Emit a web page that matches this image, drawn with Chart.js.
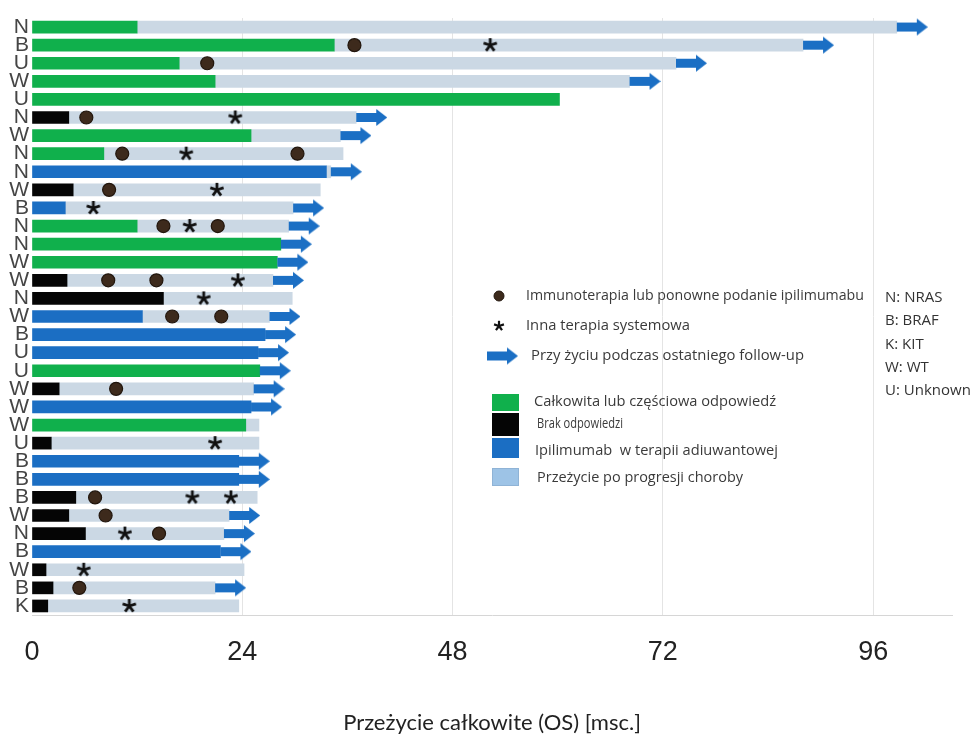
<!DOCTYPE html>
<html>
<head>
<meta charset="utf-8">
<script src="https://cdn.jsdelivr.net/npm/chart.js@4/dist/chart.umd.min.js"></script>
<style>
  html, body { margin: 0; padding: 0; background: #fff; }
  #wrap { width: 974px; height: 736px; }
</style>
</head>
<body>
<div id="wrap"><canvas id="chart" width="974" height="736"></canvas></div>
<script>
// Mutation status per patient, top to bottom
const mutation = ['N','B','U','W','U','N','W','N','N','W','B','N','N','W','W','N','W','B','U','U','W','W','W','U','B','B','B','W','N','B','W','B','K'];
// Ipilimumab setting: CR = complete/partial response, NR = no response, ADJ = adjuvant
const response = ['CR','CR','CR','CR','CR','NR','CR','CR','ADJ','NR','ADJ','CR','CR','CR','NR','NR','ADJ','ADJ','ADJ','CR','NR','ADJ','CR','NR','ADJ','ADJ','NR','NR','NR','ADJ','NR','NR','NR'];
// Months until progression (end of the coloured segment)
const responseEnd = [12.0,34.5,16.8,20.9,60.2,4.2,25.0,8.2,33.6,4.7,3.8,12.0,28.4,28.0,4.0,15.0,12.6,26.6,25.8,26.0,3.1,25.0,24.4,2.2,23.6,23.6,5.0,4.2,6.1,21.5,1.6,2.4,1.8];
// Overall survival, months
const overallSurvival = [98.7,88.0,73.5,68.2,60.2,37.0,35.2,35.5,34.1,32.9,29.8,29.3,28.4,28.0,27.5,29.7,27.1,26.6,25.8,26.0,25.3,25.0,25.9,25.9,23.6,23.6,25.7,22.5,21.9,21.5,24.2,20.9,23.6];
// Alive at last follow-up (1 = yes)
const alive = [1,1,1,1,0,1,1,0,1,0,1,1,1,1,1,0,1,1,1,1,1,1,0,0,1,1,0,1,1,1,0,1,0];
// Immunotherapy or ipilimumab rechallenge: [patient no., month]
const immunoEvents = [[2,36.8],[3,20.0],[6,6.2],[8,10.3],[8,30.3],[10,8.8],[12,15.0],[12,21.2],[15,8.7],[15,14.2],[17,16.0],[17,21.6],[21,9.6],[27,7.2],[28,8.4],[29,14.5],[32,5.4]];
// Other systemic therapy: [patient no., month]
const otherTherapy = [[2,52.3],[6,23.2],[8,17.6],[10,21.1],[11,7.0],[12,18.0],[15,23.5],[16,19.6],[24,20.9],[27,18.3],[27,22.7],[29,10.6],[31,5.9],[33,11.1]];
// Axis ticks (months)
const xTicks = [0, 24, 48, 72, 96];

const legendSymbolText = ['Immunoterapia lub ponowne podanie ipilimumabu', 'Inna terapia systemowa', 'Przy życiu podczas ostatniego follow-up'];
const legendColourText = ['Całkowita lub częściowa odpowiedź', 'Brak odpowiedzi', 'Ipilimumab  w terapii adiuwantowej', 'Przeżycie po progresji choroby'];
const mutationKey = ['N: NRAS', 'B: BRAF', 'K: KIT', 'W: WT', 'U: Unknown'];
const axisTitle = 'Przeżycie całkowite (OS) [msc.]';

const COLORS = { CR: '#10b04c', NR: '#050505', ADJ: '#1b6ec3', post: '#cbd8e4', legendPost: '#9dc3e6', arrow: '#1b6fc4', dot: '#3d2a1c', dotRim: '#22160d' };

const patients = mutation.map((m, i) => String(i + 1));

// ---- marker images ----
function makeArrow(len, shaftH, headH, headLen) {
  const c = document.createElement('canvas');
  c.width = len * 2; c.height = headH + 2;
  const g = c.getContext('2d');
  const cy = c.height / 2, x0 = len;
  g.fillStyle = COLORS.arrow;
  g.fillRect(x0, cy - shaftH / 2, len - headLen + 1, shaftH);
  g.beginPath();
  g.moveTo(x0 + len - headLen, cy - headH / 2);
  g.lineTo(x0 + len, cy);
  g.lineTo(x0 + len - headLen, cy + headH / 2);
  g.closePath();
  g.fill();
  return c;
}
function makeStar(size, arm, lw) {
  const c = document.createElement('canvas');
  c.width = size; c.height = size;
  const g = c.getContext('2d');
  g.strokeStyle = '#111';
  g.lineWidth = lw;
  g.lineCap = 'butt';
  for (let k = 0; k < 5; k++) {
    const a = -Math.PI / 2 + k * 2 * Math.PI / 5;
    g.beginPath();
    g.moveTo(size / 2, size / 2);
    g.lineTo(size / 2 + arm * Math.cos(a), size / 2 + arm * Math.sin(a));
    g.stroke();
  }
  return c;
}
const arrowImg = makeArrow(31, 9, 17, 11);
const starImg = makeStar(18, 7, 2.8);
const starSmall = makeStar(14, 5.2, 2.2);

// ---- datasets ----
function segment(kind) {
  return patients.map((p, i) => response[i] === kind ? [0, responseEnd[i]] : null);
}
const barCommon = { grouped: false, barThickness: 12, borderWidth: 0, order: 2 };
const datasets = [
  Object.assign({ type: 'bar', label: 'CR', data: segment('CR'), backgroundColor: COLORS.CR }, barCommon),
  Object.assign({ type: 'bar', label: 'NR', data: segment('NR'), backgroundColor: COLORS.NR }, barCommon),
  Object.assign({ type: 'bar', label: 'ADJ', data: segment('ADJ'), backgroundColor: COLORS.ADJ }, barCommon),
  Object.assign({ type: 'bar', label: 'post', data: patients.map((p, i) => overallSurvival[i] > responseEnd[i] ? [responseEnd[i], overallSurvival[i]] : null), backgroundColor: COLORS.post }, barCommon),
  { type: 'scatter', label: 'alive', order: 1, pointStyle: arrowImg, pointRadius: 6, clip: false,
    data: patients.map((p, i) => alive[i] ? { x: overallSurvival[i], y: p } : null).filter(Boolean) },
  { type: 'scatter', label: 'immuno', order: 0, pointStyle: 'circle', pointRadius: 6.5, pointBorderWidth: 1.2,
    backgroundColor: COLORS.dot, borderColor: COLORS.dotRim,
    data: immunoEvents.map(([n, m]) => ({ x: m, y: patients[n - 1] })) },
  { type: 'scatter', label: 'other', order: 0, pointStyle: starImg, pointRadius: 6,
    data: otherTherapy.map(([n, m]) => ({ x: m, y: patients[n - 1] })) }
];

// ---- legend & key ----
function fitText(ctx, text, x, y, width) {
  const w = ctx.measureText(text).width;
  ctx.save();
  ctx.translate(x, y);
  ctx.scale(width / w, 1);
  ctx.fillText(text, 0, 0);
  ctx.restore();
}
const legendPlugin = {
  id: 'swimmerLegend',
  afterDraw(chart) {
    const ctx = chart.ctx;
    ctx.save();
    // symbol markers
    ctx.beginPath();
    ctx.arc(499, 296, 5, 0, Math.PI * 2);
    ctx.fillStyle = COLORS.dot; ctx.fill();
    ctx.lineWidth = 1; ctx.strokeStyle = COLORS.dotRim; ctx.stroke();
    ctx.drawImage(starSmall, 499 - 7, 326 - 7);
    ctx.drawImage(arrowImg, 487 - 31, 356 - arrowImg.height / 2);
    // colour squares
    const squares = [[COLORS.CR, 394, 17], [COLORS.NR, 413, 23], [COLORS.ADJ, 438, 20], [COLORS.legendPost, 468, 18]];
    squares.forEach(([c, y, h]) => { ctx.fillStyle = c; ctx.fillRect(492, y, 27, h); });
    ctx.strokeStyle = '#8fb3d6'; ctx.lineWidth = 1; ctx.strokeRect(492.5, 468.5, 26, 17);
    // texts
    ctx.fillStyle = '#3a3a3a';
    ctx.textBaseline = 'middle';
    ctx.textAlign = 'left';
    ctx.font = '15px "Open Sans"';
    const symPos = [[526, 296, 338], [526, 326, 164], [531, 356, 273]];
    legendSymbolText.forEach((t, i) => fitText(ctx, t, symPos[i][0], symPos[i][1], symPos[i][2]));
    const colPos = [[534, 402, 242], [537, 424, 86], [535, 451, 243], [537, 478, 206]];
    legendColourText.forEach((t, i) => fitText(ctx, t, colPos[i][0], colPos[i][1], colPos[i][2]));
    ctx.font = '15px "Open Sans"';
    ctx.fillStyle = '#333';
    const keyY = [298, 321, 345, 368, 391];
    mutationKey.forEach((t, i) => ctx.fillText(t, 885, keyY[i]));
    ctx.restore();
  }
};

new Chart(document.getElementById('chart'), {
  type: 'bar',
  data: { labels: patients, datasets },
  options: {
    responsive: false,
    animation: false,
    indexAxis: 'y',
    events: [],
    layout: { padding: { top: 18, right: 22, left: 0, bottom: 0 } },
    plugins: { legend: { display: false }, tooltip: { enabled: false } },
    scales: {
      x: {
        type: 'linear',
        min: 0, max: 105,
        afterFit: s => { s.height = 121; },
        afterBuildTicks: s => { s.ticks = xTicks.map(v => ({ value: v })); },
        grid: { color: ctx => ctx.tick && ctx.tick.value === 0 ? 'rgba(0,0,0,0)' : '#e4e4e4', drawTicks: false, lineWidth: 1 },
        border: { display: true, color: '#d6d6d6', width: 1 },
        ticks: { padding: 21, color: '#222', font: { family: '"Liberation Sans Narrow", "Liberation Sans", Arial', size: 27 } },
        title: { display: true, text: axisTitle, color: '#222', padding: { top: 0, bottom: 0 }, font: { family: 'Lato', size: 22 } }
      },
      y: {
        type: 'category',
        offset: true,
        afterFit: s => { s.width = 32; },
        grid: { display: false, drawTicks: false },
        border: { display: false },
        ticks: {
          autoSkip: false, padding: 3, color: '#454545',
          font: { family: '"Liberation Sans Narrow", "Liberation Sans", Arial', size: 21 },
          callback: (v, i) => mutation[i]
        }
      }
    }
  },
  plugins: [legendPlugin]
});
</script>
</body>
</html>
